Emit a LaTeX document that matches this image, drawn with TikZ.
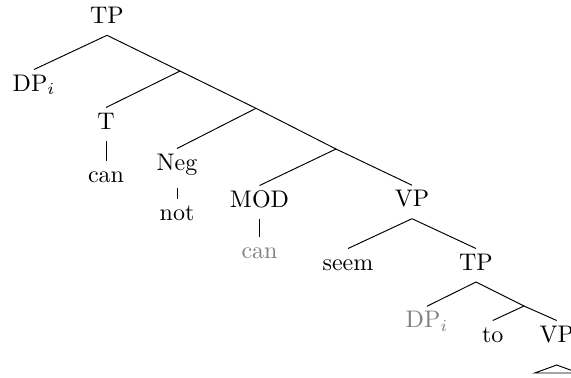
\documentclass[tikz,border=0pt]{standalone}
\begin{document}
\begin{tikzpicture}[
  x=0.41667pt, y=-0.41667pt,
  cat/.style={anchor=base, inner xsep=0pt, inner ysep=0pt, text height=8.75pt, text depth=4.8pt},
  trace/.style={cat, text=black!50},
  edge/.style={draw, line width=0.4pt}
]
\useasboundingbox (0,0) rectangle (571,377);
\clip (0,0) rectangle (571,377);

% labelled nodes
\node[cat] (tp)   at (107,23.3) {TP};
\node[cat] (dp)   at (34,91)    {DP$_i$};
\node[cat] (t)    at (106,129)  {T};
\node[cat] (can)  at (106,182)  {can};
\node[cat, text depth=7.1pt] (neg) at (177,170) {Neg};
\node[cat] (not)  at (177,220)  {not};
\node[cat] (mod)  at (259.5,207) {MOD};
\node[trace] (canb) at (259.5,258) {can};
\node[cat] (vp)   at (412,206.7) {VP};
\node[cat] (seem) at (348,270)  {seem};
\node[cat] (tpb)  at (476,270)  {TP};
\node[trace] (dpb) at (427,327.7) {DP$_i$};
\node[cat] (to)   at (492.7,342) {to};
\node[cat] (vpb)  at (556.7,342) {VP};

% unlabelled branching points
\coordinate (j1) at (180,71);
\coordinate (j2) at (256,108.3);
\coordinate (j3) at (336,149);
\coordinate (j4) at (524,306);

% branches
\draw[edge] (tp.south) -- (dp.north);
\draw[edge] (tp.south) -- (j1);
\draw[edge] (j1) -- (t.north);
\draw[edge] (j1) -- (j2);
\draw[edge] (t.south) -- (can.north);
\draw[edge] (j2) -- (neg.north);
\draw[edge] (j2) -- (j3);
\draw[edge] (neg.south) -- (not.north);
\draw[edge] (j3) -- (mod.north);
\draw[edge] (j3) -- (vp.north);
\draw[edge] (mod.south) -- (canb.north);
\draw[edge] (vp.south) -- (seem.north);
\draw[edge] (vp.south) -- (tpb.north);
\draw[edge] (tpb.south) -- (dpb.north);
\draw[edge] (tpb.south) -- (j4);
\draw[edge] (j4) -- (to.north);
\draw[edge] (j4) -- (vpb.north);

% roof under the lower VP
\coordinate (roof) at (556.7,365);
\draw[edge] (roof) -- ++(-22,8) -- ++(44,0) -- cycle;
\end{tikzpicture}
\end{document}
